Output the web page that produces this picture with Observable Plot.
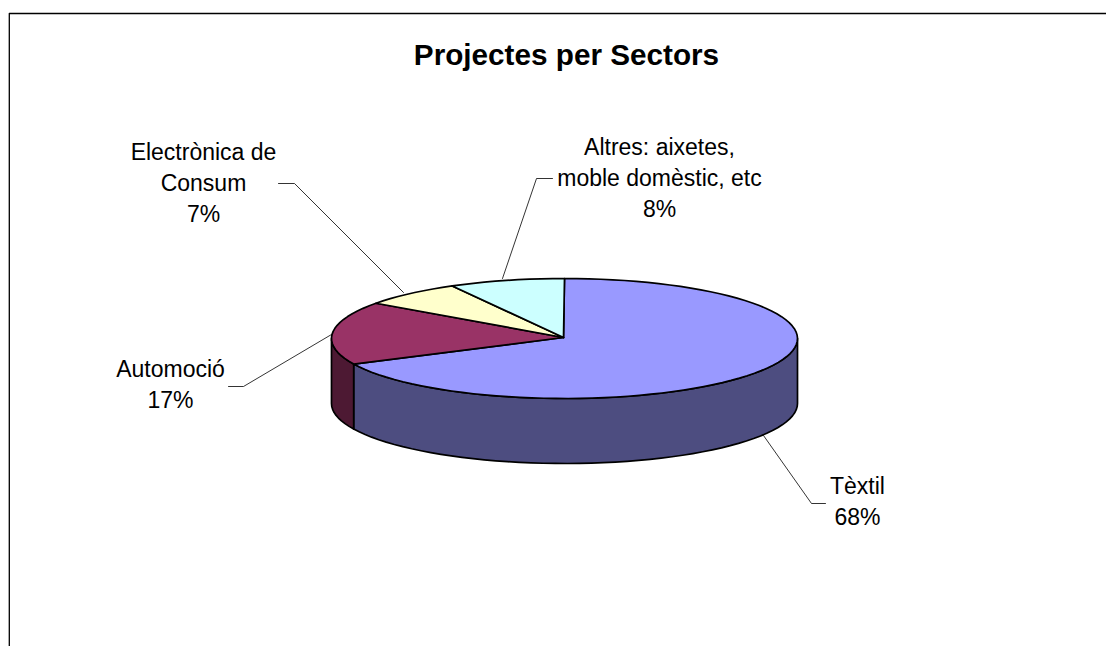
<!DOCTYPE html>
<html><head><meta charset="utf-8">
<script src="https://cdn.jsdelivr.net/npm/d3@7"></script>
<script src="https://cdn.jsdelivr.net/npm/@observablehq/plot@0.6"></script>
<style>html,body{margin:0;padding:0;background:#fff}svg{display:block}</style>
</head><body><div id="chart"></div>
<script>
const sectors = ["Tèxtil", "Automoció", "Electrònica de Consum", "Altres: aixetes, moble domèstic, etc"];
const shares = [68, 17, 7, 8];
const topColors = ["#9999FF", "#993366", "#FFFFCC", "#CCFFFF"];
const sideColors = ["#4D4D80", "#4D1933", "#808066", "#668080"];
const labelLines = [["Tèxtil","68%"],["Automoció","17%"],["Electrònica de","Consum","7%"],["Altres: aixetes,","moble domèstic, etc","8%"]];
const labelAnchors = [[857,486],[170,369],[203,152],[659,147]];
const leaders = [
  [[825,503],[811,503],[763,435]],
  [[228,386],[243,386],[331,334]],
  [[278,183],[294,183],[403,292]],
  [[552,178],[536,178],[502,278]]
];
const frame = [[8.8,646],[8.8,13],[1106,13]];

const cx = 564, cy = 338, rx = 233, ry = 60, depth = 65, lineStep = 31;
const pt = (deg, dz = 0) => {
  const a = deg * Math.PI / 180;
  return [cx + rx * Math.sin(a), cy - ry * Math.cos(a) + dz];
};
const arc = (a0, a1, dz = 0) => {
  const n = Math.max(2, Math.ceil((a1 - a0) / 3));
  return d3.range(n + 1).map(i => pt(a0 + (a1 - a0) * i / n, dz));
};
const total = d3.sum(shares);
let acc = 0;
const spans = shares.map(v => { const a0 = acc; acc += v / total * 360; return [a0, acc]; });

const rows = [];
const addPoly = (id, color, pts) => pts.forEach(([x, y]) => rows.push({id, color, x, y}));
spans.forEach(([a0, a1], i) => {
  const s0 = Math.max(a0, 90), s1 = Math.min(a1, 270);
  if (s1 > s0) {
    const top = arc(s0, s1), bot = arc(s0, s1, depth).reverse();
    addPoly("side" + i, sideColors[i], [...top, ...bot, top[0]]);
  }
});
spans.forEach(([a0, a1], i) => {
  addPoly("top" + i, topColors[i], [[cx - 1, cy - 1], ...arc(a0, a1), [cx - 1, cy - 1]]);
});

const labelRows = labelLines.flatMap((lines, i) => lines.map((t, j) => ({x: labelAnchors[i][0], y: labelAnchors[i][1] + j * lineStep, t})));
const leaderRows = leaders.flatMap((l, i) => l.map(([x, y]) => ({i, x, y})));

const chart = Plot.plot({
  width: 1106, height: 646, margin: 0,
  x: {domain: [0, 1106], range: [0, 1106], axis: null},
  y: {domain: [0, 646], range: [0, 646], axis: null},
  style: {background: "#fff", fontFamily: "'Liberation Sans', Arial, sans-serif"},
  marks: [
    Plot.line(frame, {x: d => d[0], y: d => d[1], stroke: "#000", strokeWidth: 1.3}),
    Plot.line(leaderRows, {x: "x", y: "y", z: "i", stroke: "#000", strokeWidth: 0.8}),
    Plot.line(rows, {x: "x", y: "y", z: "id", fill: d => d.color, stroke: "#000", strokeWidth: 1.7, strokeLinejoin: "round"}),
    Plot.text(labelRows, {x: "x", y: "y", text: "t", fontSize: 23, textAnchor: "middle", fill: "#000"}),
    Plot.text(["Projectes per Sectors"], {x: () => 566, y: () => 55, text: d => d, fontSize: 29.7, fontWeight: "bold", fill: "#000"})
  ]
});
document.getElementById("chart").append(chart);
</script></body></html>
